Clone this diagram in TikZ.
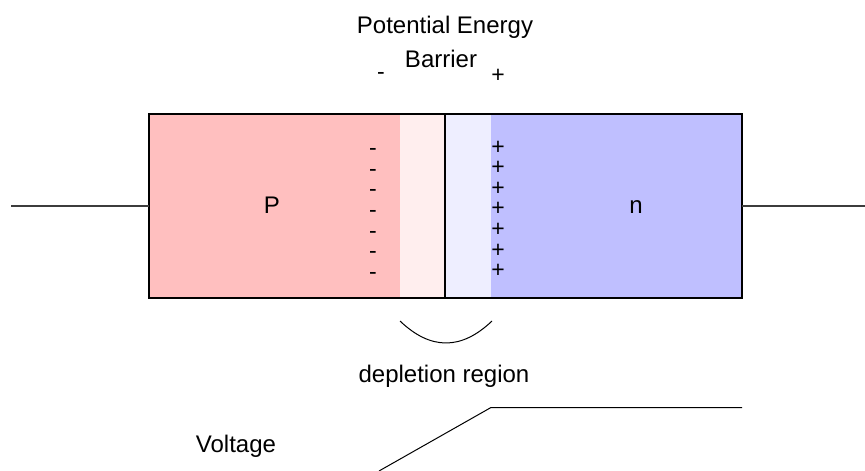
\documentclass[tikz,border=0pt]{standalone}
\usepackage{fontspec}
\setmainfont{Liberation Sans}
\definecolor{pfill}{RGB}{255,191,191}
\definecolor{pdep}{RGB}{255,238,238}
\definecolor{ndep}{RGB}{238,238,255}
\definecolor{nfill}{RGB}{191,191,255}
\definecolor{wire}{RGB}{60,60,60}
\begin{document}
\begin{tikzpicture}[x=1pt,y=-1pt,
  region/.style={inner sep=0pt, outer sep=0pt, minimum height=184pt},
  lbl/.style={anchor=base, inner sep=0pt, font=\fontsize{24}{28}\selectfont},
  chg/.style={anchor=base, inner sep=0pt, font=\fontsize{23}{27}\selectfont},
  chgcol/.style={anchor=base, inner sep=0pt, align=center,
    font=\fontsize{23}{20.55}\selectfont},
  wireline/.style={draw=wire, line width=1.4pt},
  thin/.style={draw=black, line width=1pt}]
\useasboundingbox (0,0) rectangle (865,471);

% doped regions and depletion layers
\node[region, fill=pfill, minimum width=251pt] (p)  at (274.5,206) {};
\node[region, fill=pdep,  minimum width=45pt]  (pd) at (422.5,206) {};
\node[region, fill=ndep,  minimum width=46pt]  (nd) at (468,206) {};
\node[region, fill=nfill, minimum width=251pt] (n)  at (616.5,206) {};

% outline and junction
\draw[black, line width=1.3pt] (p.north west) rectangle (n.south east);
\draw[black, line width=1.3pt] (pd.north east) -- (pd.south east);

% leads
\coordinate (leadL) at (11,206);
\coordinate (leadR) at (865,206);
\draw[wireline] (leadL) -- (p.west);
\draw[wireline] (n.east) -- (leadR);

% region labels
\node[lbl] (ptxt) at (272,213) {P};
\node[lbl] (ntxt) at (636,213) {n};

% fixed charges at the junction (anchored on the last line's baseline)
\node[chgcol] (neg) at (373,279.1) {-\\-\\-\\-\\-\\-\\-};
\node[chgcol] (pos) at (498,277.6) {+\\+\\+\\+\\+\\+\\+};

% barrier label
\node[lbl] (pe) at (445,33) {Potential Energy};
\node[lbl] (bar) at (441,67) {Barrier};
\node[chg] (bm) at (381,79.5) {-};
\node[chg] (bp) at (498,82.6) {+};

% depletion region brace
\coordinate (arcL) at (400,321);
\coordinate (arcR) at (492,321);
\draw[thin] (arcL) .. controls (430.7,350.3) and (461.3,350.3) .. (arcR);
\node[lbl] (dep) at (444,382.7) {depletion region};

% voltage profile
\node[lbl] (volt) at (236,452) {Voltage};
\coordinate (v0) at (379,471);
\coordinate (v1) at (491,407.5);
\coordinate (v2) at (742,407.5);
\draw[thin] (v0) -- (v1) -- (v2);
\end{tikzpicture}
\end{document}
